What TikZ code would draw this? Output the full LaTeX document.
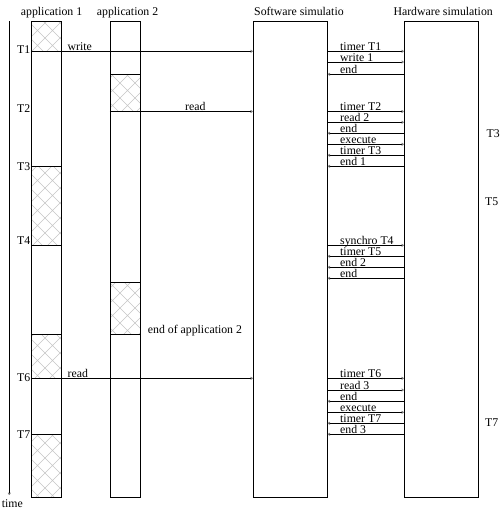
\documentclass[tikz,border=0pt]{standalone}
\usepackage{fontspec}
\setmainfont{Liberation Serif}
\usetikzlibrary{arrows.meta,patterns.meta}

\tikzdeclarepattern{
  name=rejilla,
  type=uncolored,
  bottom left={(-.5pt,-.5pt)},
  top right={(15.5pt,15.5pt)},
  tile size={(15pt,15pt)},
  code={
    \draw[line width=0.6pt] (0,0) -- (15pt,15pt) (0,15pt) -- (15pt,0);
  }
}

\begin{document}
\begin{tikzpicture}[
        x=1pt, y=-1pt,
        bloque/.style={draw, line width=0.9pt, minimum width=30pt, minimum height=476pt, inner sep=0pt},
        simul/.style={bloque, minimum width=74pt},
        rayado/.style={draw, line width=0.9pt, pattern=rejilla, pattern color=gray!45},
        etiqueta/.style={font=\fontsize{11.8}{13}\selectfont, inner sep=0pt, anchor=base west},
        tiempo/.style={etiqueta, anchor=base east},
        mensaje/.style={line width=0.9pt, -{To[length=2.5pt,width=3pt,color=gray]}}
    ]
        \useasboundingbox (0,0) rectangle (502,518);

        % Zonas activas de las aplicaciones
        \draw[rayado] (31.3,21.3) rectangle (61.3,51.3);
        \draw[rayado] (31.3,166.3) rectangle (61.3,245.3);
        \draw[rayado] (31.3,334.3) rectangle (61.3,378.3);
        \draw[rayado] (31.3,434.3) rectangle (61.3,497.3);
        \draw[rayado] (110.3,74.3) rectangle (140.3,111.5);
        \draw[rayado] (110.3,282.3) rectangle (140.3,334.3);

        % Columnas
        \node[bloque] (app1) at (46.3,259.3) {};
        \node[bloque] (app2) at (125.3,259.3) {};
        \node[simul] (sw) at (290.3,259.3) {};
        \node[simul] (hw) at (441.3,259.3) {};

        % Titulos
        \node[etiqueta] (tit1) at (20.7,16) {application 1};
        \node[etiqueta] (tit2) at (96.7,16) {application 2};
        \begin{scope}
            \clip (250,0) rectangle (343.5,20);
            \node[etiqueta] (titsw) at (254,16) {Software simulation};
        \end{scope}
        \node[etiqueta] (tithw) at (393.3,16) {Hardware simulation};

        % Eje de tiempo
        \coordinate (t0) at (9.3,21.3);
        \coordinate (t1) at (9.3,495);
        \draw[mensaje] (t0) -- (t1);
        \node[etiqueta] (time) at (1.7,507.7) {time};

        % Instantes T
        \node[tiempo] (T1) at (30.5,54) {T1};
        \node[tiempo] (T2) at (30.5,113) {T2};
        \node[tiempo] (T3) at (30.5,170.5) {T3};
        \node[tiempo] (T4) at (30.5,244.5) {T4};
        \node[tiempo] (T6) at (30.5,381) {T6};
        \node[tiempo] (T7) at (30.5,438) {T7};
        \node[etiqueta] (T3b) at (486.5,138) {T3};
        \node[etiqueta] (T5b) at (485,206) {T5};
        \node[etiqueta] (T7b) at (485,426.5) {T7};

        % Peticiones de las aplicaciones
        \draw[mensaje] (app1.west |- 0,51.3) -- (sw.west |- 0,51.3);
        \node[etiqueta] (write) at (67.5,50.8) {write};
        \draw[mensaje] (app2.west |- 0,111.5) -- (sw.west |- 0,111.5);
        \node[etiqueta] (read2) at (185,111) {read};
        \draw[mensaje] (app1.west |- 0,378.3) -- (sw.west |- 0,378.3);
        \node[etiqueta] (read1) at (67.5,377.8) {read};
        \node[etiqueta] (fin2) at (147.7,333) {end of application 2};

        % Mensajes entre simulaciones
        \draw[mensaje] (sw.east |- 0,51.3) -- (hw.west |- 0,51.3);
        \node[etiqueta] (m1) at (340,50.8) {timer T1};
        \draw[mensaje] (sw.east |- 0,62) -- (hw.west |- 0,62);
        \node[etiqueta] (m2) at (340,61.5) {write 1};
        \draw[mensaje] (hw.west |- 0,74.3) -- (sw.east |- 0,74.3);
        \node[etiqueta] (m3) at (340,73.8) {end};

        \draw[mensaje] (sw.east |- 0,111.5) -- (hw.west |- 0,111.5);
        \node[etiqueta] (m4) at (340,111) {timer T2};
        \draw[mensaje] (sw.east |- 0,122.3) -- (hw.west |- 0,122.3);
        \node[etiqueta] (m5) at (340,121.8) {read 2};
        \draw[mensaje] (hw.west |- 0,133.3) -- (sw.east |- 0,133.3);
        \node[etiqueta] (m6) at (340,132.8) {end};
        \draw[mensaje] (sw.east |- 0,144.3) -- (hw.west |- 0,144.3);
        \node[etiqueta] (m7) at (340,143.8) {execute};
        \draw[mensaje] (hw.west |- 0,155.3) -- (sw.east |- 0,155.3);
        \node[etiqueta] (m8) at (340,154.8) {timer T3};
        \draw[mensaje] (hw.west |- 0,166.3) -- (sw.east |- 0,166.3);
        \node[etiqueta] (m9) at (340,165.8) {end 1};

        \draw[mensaje] (sw.east |- 0,245.3) -- (hw.west |- 0,245.3);
        \node[etiqueta] (m10) at (340,244.8) {synchro T4};
        \draw[mensaje] (hw.west |- 0,256.3) -- (sw.east |- 0,256.3);
        \node[etiqueta] (m11) at (340,255.8) {timer T5};
        \draw[mensaje] (hw.west |- 0,267.3) -- (sw.east |- 0,267.3);
        \node[etiqueta] (m12) at (340,266.8) {end 2};
        \draw[mensaje] (hw.west |- 0,278.3) -- (sw.east |- 0,278.3);
        \node[etiqueta] (m13) at (340,277.8) {end};

        \draw[mensaje] (sw.east |- 0,378.3) -- (hw.west |- 0,378.3);
        \node[etiqueta] (m14) at (340,377.8) {timer T6};
        \draw[mensaje] (sw.east |- 0,390) -- (hw.west |- 0,390);
        \node[etiqueta] (m15) at (340,389.5) {read 3};
        \draw[mensaje] (hw.west |- 0,401.3) -- (sw.east |- 0,401.3);
        \node[etiqueta] (m16) at (340,400.8) {end};
        \draw[mensaje] (sw.east |- 0,412.3) -- (hw.west |- 0,412.3);
        \node[etiqueta] (m17) at (340,411.8) {execute};
        \draw[mensaje] (hw.west |- 0,423.3) -- (sw.east |- 0,423.3);
        \node[etiqueta] (m18) at (340,422.8) {timer T7};
        \draw[mensaje] (hw.west |- 0,434.3) -- (sw.east |- 0,434.3);
        \node[etiqueta] (m19) at (340,433.8) {end 3};
    \end{tikzpicture}
\end{document}
